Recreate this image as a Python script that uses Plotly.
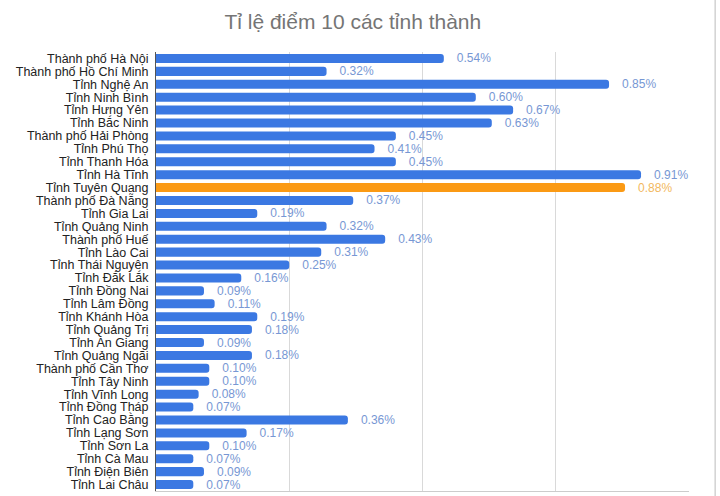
import plotly.graph_objects as go

provinces = [
    "Thành phố Hà Nội", "Thành phố Hồ Chí Minh", "Tỉnh Nghệ An", "Tỉnh Ninh Bình",
    "Tỉnh Hưng Yên", "Tỉnh Bắc Ninh", "Thành phố Hải Phòng", "Tỉnh Phú Thọ",
    "Tỉnh Thanh Hóa", "Tỉnh Hà Tĩnh", "Tỉnh Tuyên Quang", "Thành phố Đà Nẵng",
    "Tỉnh Gia Lai", "Tỉnh Quảng Ninh", "Thành phố Huế", "Tỉnh Lào Cai",
    "Tỉnh Thái Nguyên", "Tỉnh Đắk Lắk", "Tỉnh Đồng Nai", "Tỉnh Lâm Đồng",
    "Tỉnh Khánh Hòa", "Tỉnh Quảng Trị", "Tỉnh An Giang", "Tỉnh Quảng Ngãi",
    "Thành phố Cần Thơ", "Tỉnh Tây Ninh", "Tỉnh Vĩnh Long", "Tỉnh Đồng Tháp",
    "Tỉnh Cao Bằng", "Tỉnh Lạng Sơn", "Tỉnh Sơn La", "Tỉnh Cà Mau",
    "Tỉnh Điện Biên", "Tỉnh Lai Châu",
]
rates = [
    0.54, 0.32, 0.85, 0.60, 0.67, 0.63, 0.45, 0.41, 0.45, 0.91, 0.88, 0.37,
    0.19, 0.32, 0.43, 0.31, 0.25, 0.16, 0.09, 0.11, 0.19, 0.18, 0.09, 0.18,
    0.10, 0.10, 0.08, 0.07, 0.36, 0.17, 0.10, 0.07, 0.09, 0.07,
]
highlight = "Tỉnh Tuyên Quang"

BLUE = "#3b78e2"
ORANGE = "#fb9a14"
BLUE_TXT = "#7797d4"
ORANGE_TXT = "#f2b85e"

bar_colors = [ORANGE if p == highlight else BLUE for p in provinces]
txt_colors = [ORANGE_TXT if p == highlight else BLUE_TXT for p in provinces]
labels = ["\u00a0\u00a0\u00a0%.2f%%" % v for v in rates]

fig = go.Figure(go.Bar(
    x=rates, y=provinces, orientation="h",
    marker=dict(color=bar_colors, cornerradius=3, line=dict(width=0)),
    text=labels, textposition="outside", constraintext="none",
    textfont=dict(color=txt_colors, size=12, family="Liberation Sans, Arial"),
    cliponaxis=False, hoverinfo="skip",
))

fig.update_layout(
    width=720, height=496,
    margin=dict(l=156, r=31, t=52, b=5),
    paper_bgcolor="white", plot_bgcolor="white",
    font=dict(family="Liberation Sans, Arial", size=12, color="#222222"),
    title=dict(text="Tỉ lệ điểm 10 các tỉnh thành", x=0.49, xanchor="center",
               y=0.957, yanchor="middle",
               font=dict(size=21, color="#757575", family="Liberation Sans, Arial")),
    bargap=0.3, showlegend=False,
)
fig.update_xaxes(range=[0, 1.0], dtick=0.25, showgrid=True, gridcolor="#d9d9d9",
                 gridwidth=1, showticklabels=False, zeroline=False,
                 showline=True, linecolor="#cccccc", mirror=False, fixedrange=True)
fig.update_yaxes(autorange="reversed", showgrid=False, showline=True,
                 linecolor="#555555", linewidth=1, ticks="", ticklabelstandoff=4,
                 dtick=1, tickmode="linear",
                 tickfont=dict(size=12.5, color="#222222"), fixedrange=True)

fig.add_shape(type="line", xref="paper", yref="paper", x0=1.049, x1=1.049,
              y0=-0.02, y1=1.12, line=dict(color="#bbbbbb", width=1))

fig.write_html("out.html")
